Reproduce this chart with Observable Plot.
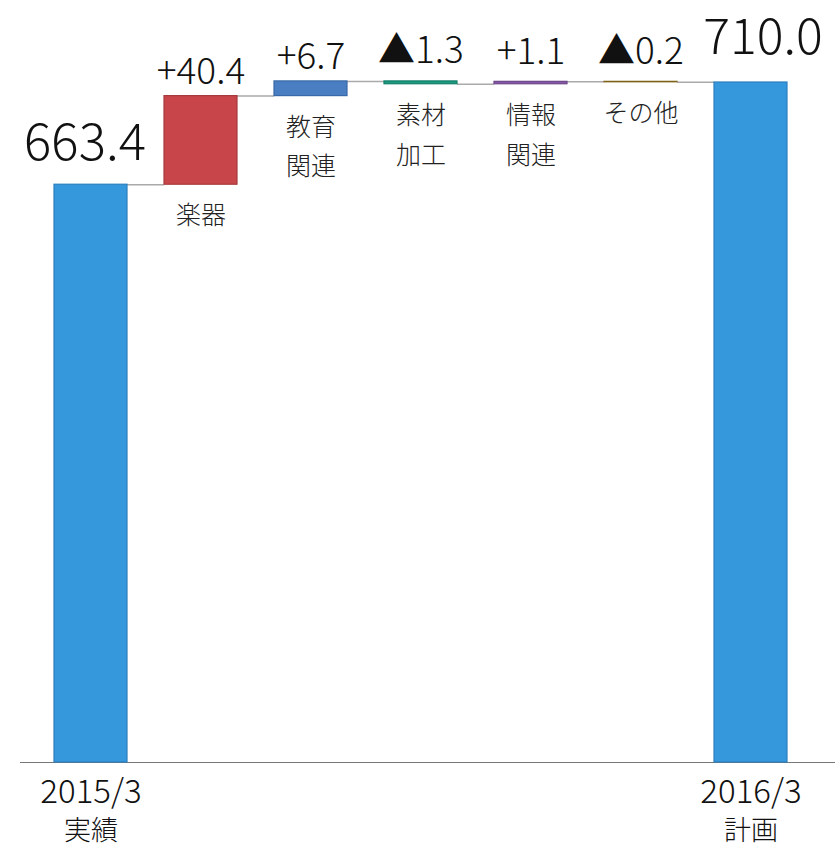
<!DOCTYPE html>
<html>
<head>
<meta charset="utf-8">
<script src="https://cdn.jsdelivr.net/npm/d3@7"></script>
<script src="https://cdn.jsdelivr.net/npm/@observablehq/plot@0.6"></script>
<style>
  html, body { margin: 0; padding: 0; background: #fff; }
  #chart svg { display: block; }
</style>
</head>
<body>
<div id="chart"></div>
<script>
// ---- data ----
const categories = ["2015/3 実績", "楽器", "教育関連", "素材加工", "情報関連", "その他", "2016/3 計画"];
const kinds = ["total", "step", "step", "step", "step", "step", "total"];
const values = [663.4, 40.4, 6.7, -1.3, 1.1, -0.2, 710.0];
const valueLabels = ["663.4", "+40.4", "+6.7", "▲1.3", "+1.1", "▲0.2", "710.0"];
const categoryLabels = ["", "楽器", "教育\n関連", "素材\n加工", "情報\n関連", "その他", ""];
const periodLabels = ["2015/3", "", "", "", "", "", "2016/3"];
const periodNotes = ["実績", "", "", "", "", "", "計画"];
const fillColors = ["#3597DC", "#C8464A", "#4A7EC3", "#1B9A80", "#8458A6", "#9C7A1E", "#3597DC"];
const strokeColors = ["#2C7FBE", "#A63A3D", "#3A68A6", "#147F69", "#6C468A", "#7E6218", "#2C7FBE"];
const yDomain = [400, 710];

// ---- waterfall rows ----
let running = 0;
const rows = categories.map((cat, i) => {
  let y1, y2;
  if (kinds[i] === "total") {
    y1 = yDomain[0]; y2 = values[i]; running = values[i];
  } else {
    y1 = running; y2 = running + values[i]; running = y2;
  }
  return {
    cat, i, kind: kinds[i], y1, y2,
    top: Math.max(y1, y2), bottom: Math.min(y1, y2),
    end: kinds[i] === "total" ? values[i] : y2,
    abs: Math.abs(values[i]),
    label: valueLabels[i], catLabel: categoryLabels[i],
    period: periodLabels[i], note: periodNotes[i],
    fill: fillColors[i], stroke: strokeColors[i]
  };
});

const W = 840, H = 848, mL = 16, mR = 16, pad = 0.337;
const band = d3.scaleBand().domain(categories).range([mL, W - mR]).padding(pad);
const bw = band.bandwidth(), step = band.step();

const connectors = rows.slice(0, -1);
const steps = rows.filter(d => d.kind === "step");
const font = "'Noto Sans CJK JP', 'Noto Sans', sans-serif";

const chart = Plot.plot({
  width: W, height: H,
  marginTop: 82, marginBottom: 86, marginLeft: mL, marginRight: mR,
  x: {domain: categories, padding: pad, axis: null},
  y: {domain: yDomain, axis: null},
  color: {type: "identity"},
  style: {fontFamily: font, fontWeight: 300, background: "#fff", color: "#111", overflow: "visible"},
  marks: [
    // connector lines
    Plot.tickY(connectors, {x: "cat", y: "end", stroke: "#aaaaaa", strokeWidth: 1.5,
      insetLeft: bw, insetRight: bw - step}),
    // baseline axis
    Plot.ruleY([yDomain[0]], {stroke: "#777", strokeWidth: 1.2, insetLeft: 4, insetRight: -11}),
    // bars
    Plot.barY(rows, {x: "cat", y1: "y1", y2: "y2", fill: "fill", stroke: "stroke", strokeWidth: 1.2}),
    // total value labels
    Plot.text(rows.filter(d => d.i === 0), {x: "cat", y: "top", text: "label", fontSize: 51,
      lineAnchor: "bottom", dy: -25, dx: -6, fill: "#111"}),
    Plot.text(rows.filter(d => d.i === rows.length - 1), {x: "cat", y: "top", text: "label", fontSize: 50,
      lineAnchor: "bottom", dy: -29, dx: 12, fill: "#111"}),
    // step value labels
    Plot.text(steps.filter(d => d.abs >= 5), {x: "cat", y: "top", text: "label", fontSize: 37,
      lineAnchor: "bottom", dy: -12, fill: "#111"}),
    Plot.text(steps.filter(d => d.abs < 5), {x: "cat", y: "top", text: "label", fontSize: 37,
      lineAnchor: "bottom", dy: -18, fill: "#111"}),
    // category labels under step bars
    Plot.text(steps, {x: "cat", y: "bottom", text: "catLabel", fontSize: 25, lineHeight: 1.6,
      lineAnchor: "top", dy: 11, fill: "#222"}),
    // period labels below axis
    Plot.text(rows.filter(d => d.kind === "total"), {x: "cat", y: () => yDomain[0], text: "period",
      fontSize: 33, lineAnchor: "top", dy: 17, fill: "#111"}),
    Plot.text(rows.filter(d => d.kind === "total"), {x: "cat", y: () => yDomain[0], text: "note",
      fontSize: 27, lineAnchor: "top", dy: 58, fill: "#111"})
  ]
});
document.getElementById("chart").appendChild(chart);
</script>
</body>
</html>
